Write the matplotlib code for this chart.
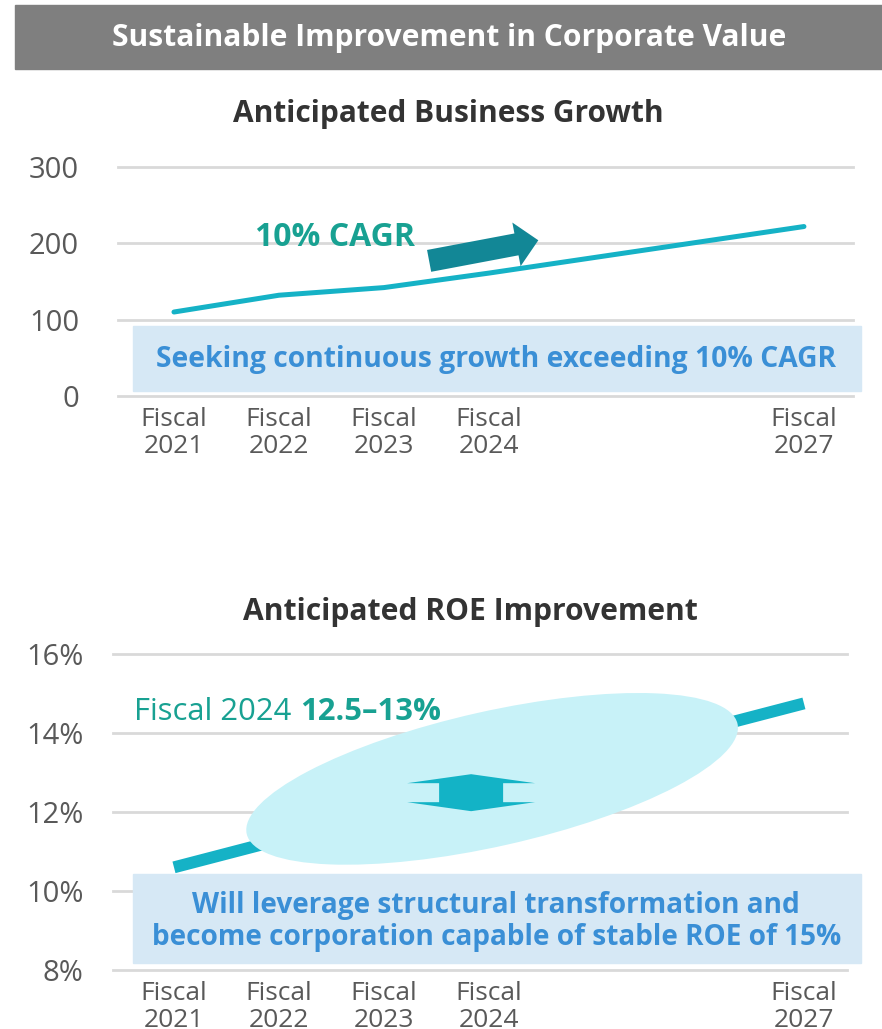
import matplotlib.pyplot as plt
from matplotlib.patches import Rectangle, Ellipse, Polygon
from matplotlib.transforms import ScaledTranslation

plt.rcParams['font.family'] = ['Open Sans', 'DejaVu Sans']

# data
tick_years = [2021, 2022, 2023, 2024, 2027]
tick_labels = ['Fiscal\n2021', 'Fiscal\n2022', 'Fiscal\n2023', 'Fiscal\n2024', 'Fiscal\n2027']

growth_years = [2021, 2022, 2023, 2024, 2027]
growth = [110, 132, 142, 161, 222]
growth_ticks = [0, 100, 200, 300]

roe_years = [2021, 2027]
roe = [10.6, 14.75]
roe_ticks = [8, 10, 12, 14, 16]
roe_ticklabels = ['8%', '10%', '12%', '14%', '16%']

LINE = '#15b2c6'
TEAL_TXT = '#18a192'
BOX = '#d6e8f5'
BOX_TXT = '#3a8fd6'
GRID = '#d9d9d9'
TICK = '#595959'

fig = plt.figure(figsize=(8.82, 10.29), dpi=100)

# header bar
fig.patches.append(Rectangle((0.017, 0.933), 1.0, 0.062, transform=fig.transFigure,
                             color='#7f7f7f', zorder=0))
fig.text(0.509, 0.963, 'Sustainable Improvement in Corporate Value', ha='center', va='center',
         color='white', fontsize=21.6, fontweight='bold')

fig.text(0.508, 0.889, 'Anticipated Business Growth', ha='center', va='center',
         color='#333333', fontsize=21.5, fontweight='bold')
fig.text(0.533, 0.405, 'Anticipated ROE Improvement', ha='center', va='center',
         color='#333333', fontsize=21.6, fontweight='bold')


def style_axes(ax, ypad):
    for s in ax.spines.values():
        s.set_visible(False)
    ax.grid(axis='y', color=GRID, lw=2)
    ax.set_axisbelow(True)
    for gl in ax.get_ygridlines():
        gl.set_clip_on(False)
    ax.tick_params(axis='both', length=0, labelcolor=TICK)
    ax.tick_params(axis='y', pad=ypad, labelsize=21)
    ax.tick_params(axis='x', pad=8, labelsize=19)
    ax.set_xticks(tick_years, tick_labels)
    for t in ax.get_xticklabels():
        t.set_linespacing(1.08)


############################ chart 1 ############################
ax1 = fig.add_axes([0.1338, 0.6152, 0.8333, 0.2225])
ax1.set_xlim(2020.467, 2027.467)
ax1.set_ylim(0, 300)
ax1.set_yticks(growth_ticks)
style_axes(ax1, 28)

ax1.plot(growth_years, growth, color=LINE, lw=3.6, solid_capstyle='round',
         solid_joinstyle='round', zorder=3)

ax1.add_patch(Rectangle((0.0204, 0.0218), 0.9905, 0.284, transform=ax1.transAxes,
                        color=BOX, clip_on=False, zorder=2))
ax1.text(0.514, 0.160, 'Seeking continuous growth exceeding 10% CAGR', transform=ax1.transAxes,
         ha='center', va='center', fontsize=20.3, fontweight='bold', color=BOX_TXT, zorder=4)

ax1.text(2022.53, 208, '10% CAGR', ha='center', va='center', fontsize=23,
         fontweight='bold', color=TEAL_TXT)
ax1.annotate('', xy=(2024.47, 204), xytext=(2023.43, 177),
             arrowprops=dict(arrowstyle='simple,head_length=1.6,head_width=3.2,tail_width=1.6',
                             mutation_scale=10, color='#128796', lw=0,
                             shrinkA=0, shrinkB=0))

############################ chart 2 ############################
ax2 = fig.add_axes([0.1281, 0.0573, 0.8322, 0.3071])
ax2.set_xlim(2020.419, 2027.41)
ax2.set_ylim(8, 16)
ax2.set_yticks(roe_ticks, roe_ticklabels)
style_axes(ax2, 21)

ax2.plot(roe_years, roe, color=LINE, lw=8.6, solid_capstyle='butt', zorder=2)

# target ellipse, sized in inches around a data point
ell_tr = fig.dpi_scale_trans + ScaledTranslation(2024.03, 12.84, ax2.transData)
ax2.add_patch(Ellipse((0, 0), 5.03, 1.35, angle=12.65, transform=ell_tr,
                      color='#c8f2f8', lw=0, zorder=3))

# flat double arrow
arr_tr = fig.dpi_scale_trans + ScaledTranslation(2023.83, 12.49, ax2.transData)
hw, sw, hb, tip = 0.64, 0.32, 0.095, 0.185
pts = [(0, tip), (hw, hb), (sw, hb), (sw, -hb), (hw, -hb), (0, -tip),
       (-hw, -hb), (-sw, -hb), (-sw, hb), (-hw, hb)]
ax2.add_patch(Polygon(pts, closed=True, transform=arr_tr, color='#13b3c6', lw=0, zorder=4))

ax2.add_patch(Rectangle((0.0272, 0.0222), 0.992, 0.2816, transform=ax2.transAxes,
                        color=BOX, clip_on=False, zorder=5))
ax2.text(0.522, 0.153, 'Will leverage structural transformation and\n'
         'become corporation capable of stable ROE of 15%', transform=ax2.transAxes,
         ha='center', va='center', fontsize=20.2, fontweight='bold', color=BOX_TXT,
         linespacing=1.12, zorder=6)

t1 = ax2.text(2020.62, 14.53, 'Fiscal 2024', ha='left', va='center', fontsize=22.3,
              color=TEAL_TXT, zorder=6)
ax2.annotate('12.5\u201313%', xy=(1, 0), xycoords=t1, xytext=(6, 0),
             textcoords='offset points', ha='left', va='bottom', fontsize=22.3,
             fontweight='bold', color=TEAL_TXT, zorder=6)

fig.savefig('out.png', dpi=100)
